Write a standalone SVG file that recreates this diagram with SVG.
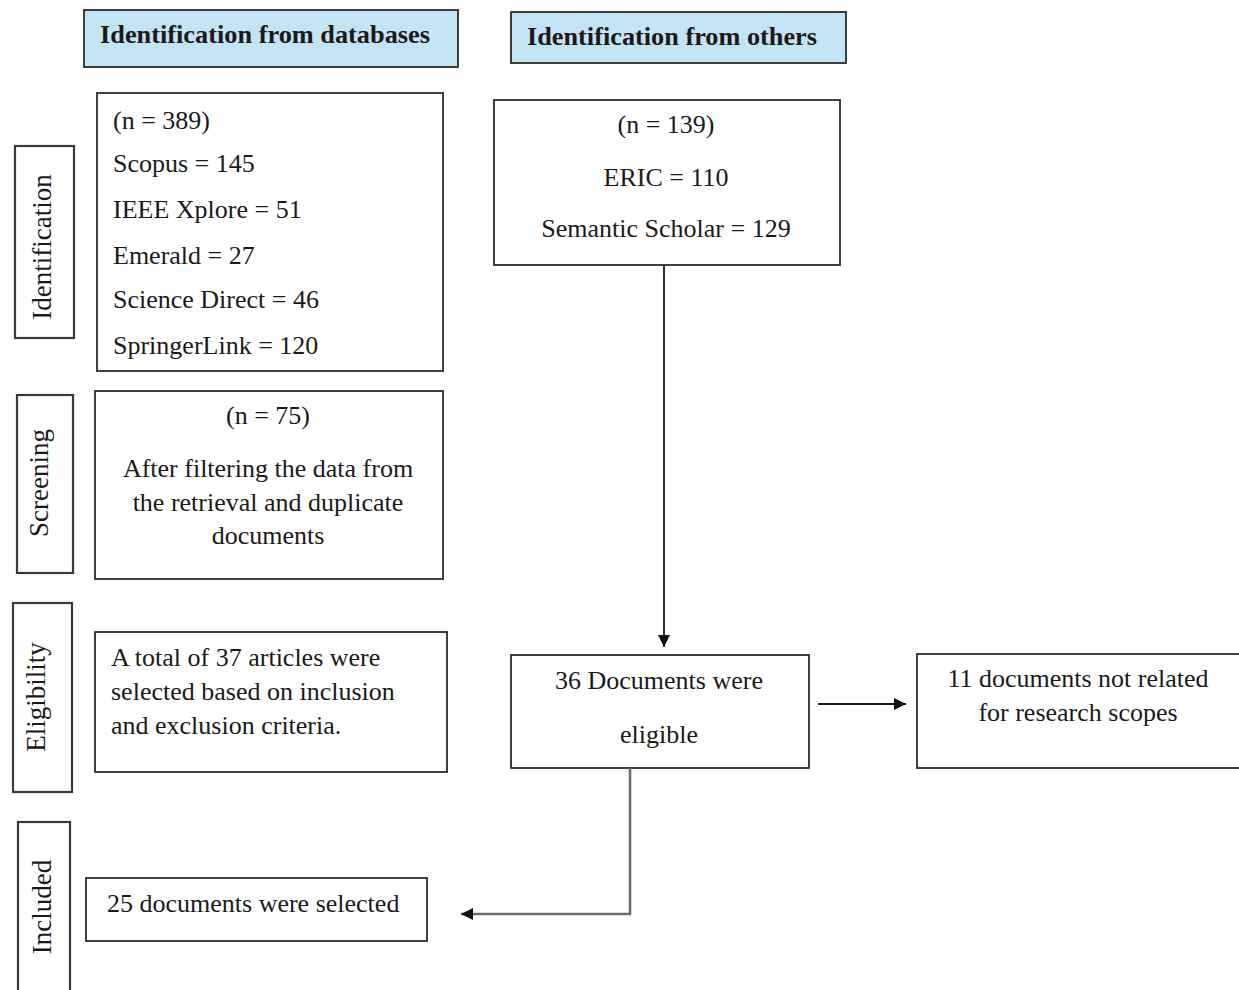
<svg xmlns="http://www.w3.org/2000/svg" width="1239" height="990" viewBox="0 0 1239 990">
<style>
.box{fill:#fff;stroke:#2b2b2b;stroke-width:1.8}
.hdr{fill:#c5e4f3;stroke:#2b2b2b;stroke-width:1.8}
.side{fill:#fff;stroke:#3a3a3a;stroke-width:2.2}
text{font-family:"Liberation Serif","Times New Roman",serif;font-size:26px;fill:#1a1a1a}
.b{font-weight:bold;font-size:25px}
.c{text-anchor:middle}
.v{text-anchor:middle;font-size:27px}
.conn{fill:none;stroke:#1a1a1a;stroke-width:1.8}
.conn2{fill:none;stroke:#6e6e6e;stroke-width:2.6}
</style>
<defs>
<marker id="ah" viewBox="0 0 10 10" refX="10" refY="5" markerWidth="12" markerHeight="12" markerUnits="userSpaceOnUse" orient="auto">
<path d="M0,0 L10,5 L0,10 z" fill="#111"/>
</marker>
</defs>
<rect width="1239" height="990" fill="#fff"/>

<g id="hdr-databases">
<rect class="hdr" x="84" y="10" width="374" height="57"/>
<text class="b" x="100" y="43" textLength="330" lengthAdjust="spacingAndGlyphs">Identification from databases</text>
</g>
<g id="hdr-others">
<rect class="hdr" x="511" y="12" width="335" height="51"/>
<text class="b" x="527" y="45" textLength="290" lengthAdjust="spacingAndGlyphs">Identification from others</text>
</g>

<g id="lbl-identification">
<rect class="side" x="15" y="146" width="59" height="192"/>
<text class="v" transform="translate(51,247) rotate(-90)">Identification</text>
</g>
<g id="lbl-screening">
<rect class="side" x="17" y="395" width="56" height="178"/>
<text class="v" transform="translate(48,483) rotate(-90)">Screening</text>
</g>
<g id="lbl-eligibility">
<rect class="side" x="13" y="603" width="59" height="189"/>
<text class="v" transform="translate(45,697) rotate(-90)">Eligibility</text>
</g>
<g id="lbl-included">
<rect class="side" x="18" y="822" width="52" height="180"/>
<text class="v" transform="translate(51,907) rotate(-90)">Included</text>
</g>

<g id="box-databases">
<rect class="box" x="97" y="93" width="346" height="278"/>
<text x="113" y="129">(n = 389)</text>
<text x="113" y="172">Scopus = 145</text>
<text x="113" y="218">IEEE Xplore = 51</text>
<text x="113" y="264">Emerald = 27</text>
<text x="113" y="308">Science Direct = 46</text>
<text x="113" y="354">SpringerLink = 120</text>
</g>

<g id="box-others">
<rect class="box" x="494" y="100" width="346" height="165"/>
<text class="c" x="666" y="133">(n = 139)</text>
<text class="c" x="666" y="186">ERIC = 110</text>
<text class="c" x="666" y="237">Semantic Scholar = 129</text>
</g>

<g id="box-screening">
<rect class="box" x="95" y="391" width="348" height="188"/>
<text class="c" x="268" y="424">(n = 75)</text>
<text class="c" x="268" y="477">After filtering the data from</text>
<text class="c" x="268" y="511">the retrieval and duplicate</text>
<text class="c" x="268" y="544">documents</text>
</g>

<g id="box-eligibility">
<rect class="box" x="95" y="632" width="352" height="140"/>
<text x="111" y="666">A total of 37 articles were</text>
<text x="111" y="700">selected based on inclusion</text>
<text x="111" y="734">and exclusion criteria.</text>
</g>

<g id="box-eligible">
<rect class="box" x="511" y="655" width="298" height="113"/>
<text class="c" x="659" y="689">36 Documents were</text>
<text class="c" x="659" y="743">eligible</text>
</g>

<g id="box-excluded">
<rect class="box" x="917" y="654" width="330" height="114"/>
<text class="c" x="1078" y="687">11 documents not related</text>
<text class="c" x="1078" y="721">for research scopes</text>
</g>

<g id="box-included">
<rect class="box" x="86" y="878" width="341" height="63"/>
<text x="107" y="912">25 documents were selected</text>
</g>

<g id="connectors">
<line class="conn" x1="664" y1="266" x2="664" y2="647" marker-end="url(#ah)"/>
<line class="conn" x1="818" y1="704" x2="906" y2="704" marker-end="url(#ah)"/>
<polyline class="conn2" points="630,768 630,914 461,914" marker-end="url(#ah)"/>
</g>
</svg>
